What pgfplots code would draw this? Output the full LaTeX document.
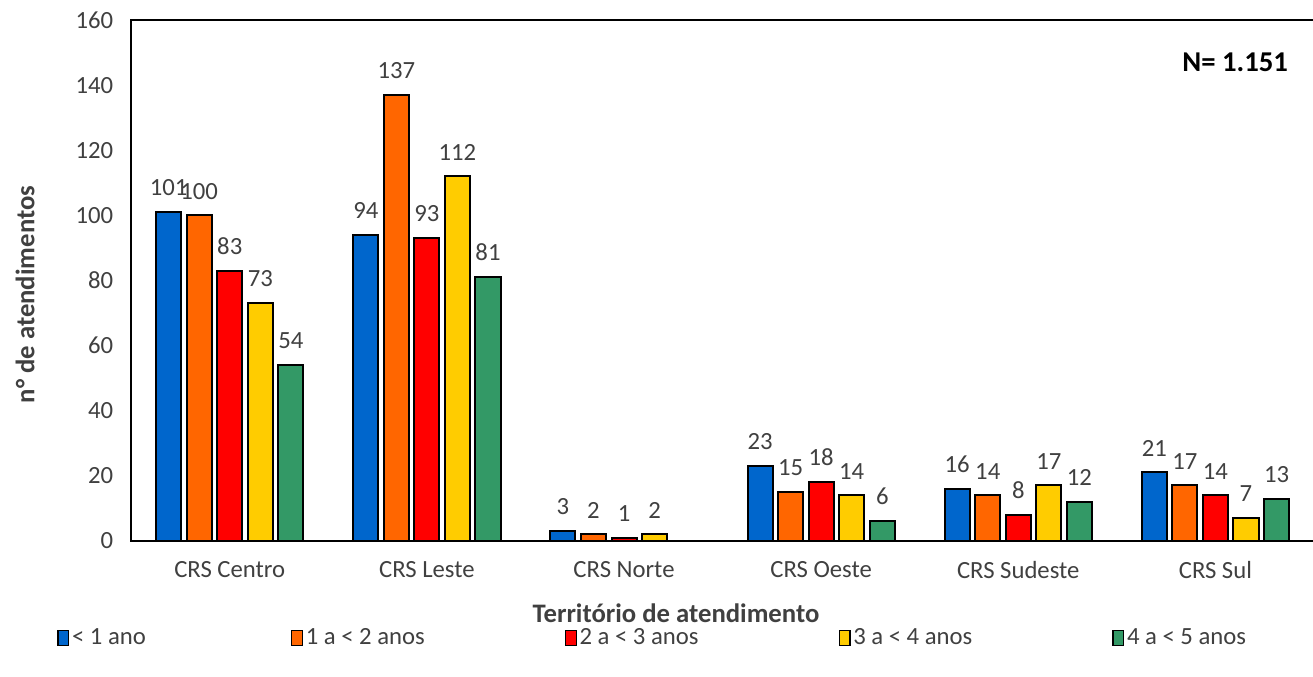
\documentclass[border=0pt]{standalone}
\usepackage{pgfplots}
\pgfplotsset{compat=1.18}
\usepackage{fontspec}
\setmainfont{Carlito}
\definecolor{cBlue}{HTML}{0066CC}
\definecolor{cOrange}{HTML}{FF6600}
\definecolor{cRed}{HTML}{FF0000}
\definecolor{cYellow}{HTML}{FFCC00}
\definecolor{cGreen}{HTML}{339966}
\definecolor{txt}{HTML}{404040}
\newcommand{\lbl}{\fontsize{18.5}{22}\selectfont}
\newcommand{\ttl}{\fontsize{20}{24}\selectfont\bfseries}
\begin{document}
\begin{tikzpicture}
\begin{axis}[
  at={(0,0)}, anchor=south west,
  scale only axis, width=885.75pt, height=390pt,
  xmin=-0.5, xmax=5.5, ymin=0, ymax=160,
  ytick={0,20,...,160},
  xtick={0,...,5},
  xticklabels={CRS Centro,CRS Leste,CRS Norte,CRS Oeste,CRS Sudeste,CRS Sul},
  major tick length=0pt,
  axis line style={line width=1.5pt},
  tick label style={font=\lbl, text=txt},
  /pgf/number format/assume math mode=true,
  xticklabel style={yshift=-12pt},
  yticklabel style={xshift=-10pt},
  ylabel={n° de atendimentos},
  xlabel={Território de atendimento},
  label style={font=\ttl, text=txt},
  ylabel style={at={(axis description cs:-0.0898,0.473)}, anchor=center},
  xlabel style={at={(axis description cs:0.4606,-0.1385)}, anchor=center},
  ybar, bar width=0.127,
  every axis plot/.append style={draw=black, line width=1.5pt},
  nodes near coords,
  every node near coord/.append style={font=\lbl, text=txt, yshift=8pt},
  legend image code/.code={\draw[#1, line width=1pt] (0pt,-5.5pt) rectangle (8pt,5.5pt);},
  legend columns=5,
  legend style={at={(axis description cs:-0.066,-0.1865)}, anchor=west,
    draw=none, font=\lbl, text=txt, column sep=0pt},
  legend cell align=left,
]
\addplot[fill=cBlue, bar shift=-0.31] coordinates {(0,101) (1,94) (2,3) (3,23) (4,16) (5,21)};
\addlegendentry{\makebox[162pt][l]{< 1 ano}}
\addplot[fill=cOrange, bar shift=-0.155] coordinates {(0,100) (1,137) (2,2) (3,15) (4,14) (5,17)};
\addlegendentry{\makebox[192pt][l]{1 a < 2 anos}}
\addplot[fill=cRed, bar shift=0] coordinates {(0,83) (1,93) (2,1) (3,18) (4,8) (5,14)};
\addlegendentry{\makebox[192pt][l]{2 a < 3 anos}}
\addplot[fill=cYellow, bar shift=0.155] coordinates {(0,73) (1,112) (2,2) (3,14) (4,17) (5,7)};
\addlegendentry{\makebox[192pt][l]{3 a < 4 anos}}
\addplot[fill=cGreen, bar shift=0.31] coordinates {(0,54) (1,81) (3,6) (4,12) (5,13)};
\addlegendentry{4 a < 5 anos}
\node[anchor=east, font=\fontsize{21.5}{25}\selectfont\bfseries, text=black] at (axis description cs:0.982,0.919) {N= 1.151};
\end{axis}
\pgfresetboundingbox
\useasboundingbox (-98.25pt,-101.25pt) rectangle (885pt,405pt);
\end{tikzpicture}
\end{document}
